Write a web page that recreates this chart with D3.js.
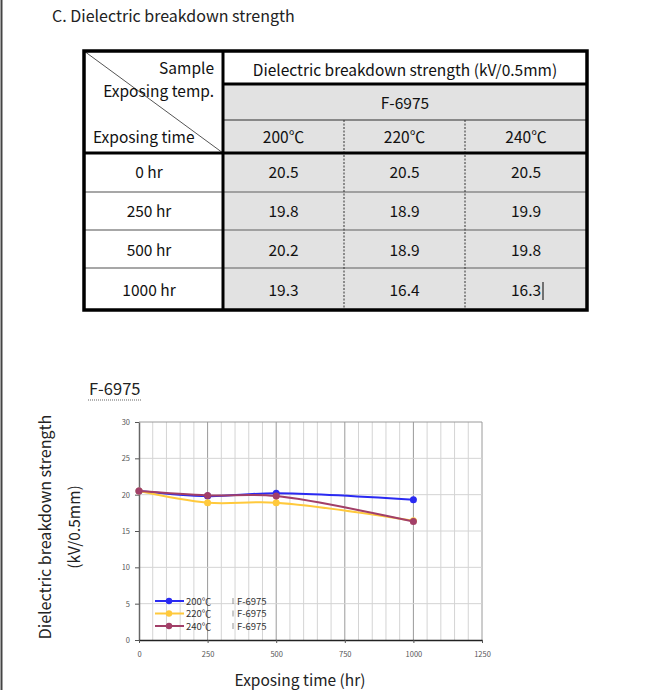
<!DOCTYPE html>
<html>
<head>
<meta charset="utf-8">
<script src="https://cdn.jsdelivr.net/npm/d3@7"></script>
<style>
body{margin:0;background:#fff;}
svg{display:block;font-family:"Noto Sans CJK JP","Noto Sans",sans-serif;}
</style>
</head>
<body>
<div id="chart"></div>
<script>
var w = 655;
var h = 690;

// data
var sampleName = "F-6975";
var exposingTimes = [0, 250, 500, 1000];
var timeLabels = ["0 hr", "250 hr", "500 hr", "1000 hr"];
var temps = ["200℃", "220℃", "240℃"];
var strength200 = [20.5, 19.8, 20.2, 19.3];
var strength220 = [20.5, 18.9, 18.9, 16.4];
var strength240 = [20.5, 19.9, 19.8, 16.3];
var xTicks = [0, 250, 500, 750, 1000, 1250];
var yTicks = [0, 5, 10, 15, 20, 25, 30];

var seriesValues = [strength200, strength220, strength240];
var seriesColors = ["#2a2af2", "#ffc93c", "#a23f68"];

var svg = d3.select("#chart").append("svg")
  .attr("width", w)
  .attr("height", h);

// page border on the left
svg.append("line")
  .attr("x1", 1.5).attr("x2", 1.5).attr("y1", 0).attr("y2", h)
  .attr("stroke", "#444").attr("stroke-width", 2);

svg.append("text")
  .attr("x", 52).attr("y", 22)
  .attr("font-size", "16px").attr("fill", "#222")
  .text("C. Dielectric breakdown strength");

// ---------- table ----------
var colX = [84, 223, 344, 465, 587];
var rowY = [51, 84, 120, 153, 192, 230, 268, 310];
var tLeft = colX[0], tRight = colX[4], tTop = rowY[0], tBottom = rowY[7];
var table = svg.append("g").attr("font-size", "15.5px").attr("fill", "#111");

table.append("rect")
  .attr("x", colX[1]).attr("y", rowY[1])
  .attr("width", tRight - colX[1]).attr("height", tBottom - rowY[1])
  .attr("fill", "#e2e2e2");

// thin row lines in the body
table.selectAll(".rowline").data(rowY.slice(4, 7)).enter().append("line")
  .attr("x1", tLeft).attr("x2", tRight)
  .attr("y1", function(d){ return d; }).attr("y2", function(d){ return d; })
  .attr("stroke", "#8a8a8a").attr("stroke-width", 1.5);

table.append("line")
  .attr("x1", colX[1]).attr("x2", tRight).attr("y1", rowY[2]).attr("y2", rowY[2])
  .attr("stroke", "#6a6a6a").attr("stroke-width", 1.5);

// dashed column dividers
table.selectAll(".colline").data(colX.slice(2, 4)).enter().append("line")
  .attr("x1", function(d){ return d; }).attr("x2", function(d){ return d; })
  .attr("y1", rowY[2]).attr("y2", tBottom)
  .attr("stroke", "#333").attr("stroke-width", 1)
  .attr("stroke-dasharray", "2,1.5");

table.append("line")
  .attr("x1", tLeft).attr("y1", tTop).attr("x2", colX[1]).attr("y2", rowY[3])
  .attr("stroke", "#555").attr("stroke-width", 1);

// thick lines
table.append("line")
  .attr("x1", colX[1]).attr("x2", tRight).attr("y1", rowY[1]).attr("y2", rowY[1])
  .attr("stroke", "#000").attr("stroke-width", 3);
table.append("line")
  .attr("x1", tLeft).attr("x2", tRight).attr("y1", rowY[3]).attr("y2", rowY[3])
  .attr("stroke", "#000").attr("stroke-width", 3);
table.append("line")
  .attr("x1", colX[1]).attr("x2", colX[1]).attr("y1", tTop).attr("y2", tBottom)
  .attr("stroke", "#000").attr("stroke-width", 3);
table.append("rect")
  .attr("x", tLeft).attr("y", tTop)
  .attr("width", tRight - tLeft).attr("height", tBottom - tTop)
  .attr("fill", "none").attr("stroke", "#000").attr("stroke-width", 3.5);

// header texts
table.append("text").attr("x", 214).attr("y", 74).attr("text-anchor", "end").text("Sample");
table.append("text").attr("x", 214).attr("y", 97).attr("text-anchor", "end").text("Exposing temp.");
table.append("text").attr("x", 93).attr("y", 143).text("Exposing time");
table.append("text").attr("x", (colX[1] + tRight) / 2).attr("y", 76).attr("text-anchor", "middle")
  .text("Dielectric breakdown strength (kV/0.5mm)");
table.append("text").attr("x", (colX[1] + tRight) / 2).attr("y", 109).attr("text-anchor", "middle")
  .text(sampleName);

table.selectAll(".temp").data(temps).enter().append("text")
  .attr("x", function(d, i){ return (colX[i + 1] + colX[i + 2]) / 2; })
  .attr("y", 143).attr("text-anchor", "middle")
  .text(function(d){ return d; });

var bodyBase = [178, 217, 256, 296];
table.selectAll(".tlabel").data(timeLabels).enter().append("text")
  .attr("x", 149).attr("y", function(d, i){ return bodyBase[i]; })
  .attr("text-anchor", "middle")
  .text(function(d){ return d; });

temps.forEach(function(t, j){
  table.selectAll(".val" + j).data(seriesValues[j]).enter().append("text")
    .attr("x", (colX[j + 1] + colX[j + 2]) / 2)
    .attr("y", function(d, i){ return bodyBase[i]; })
    .attr("text-anchor", "middle")
    .text(function(d){ return d.toFixed(1); });
});
// text cursor left in the last cell
table.append("line")
  .attr("x1", 543).attr("x2", 543).attr("y1", 282).attr("y2", 300)
  .attr("stroke", "#000").attr("stroke-width", 1);

// ---------- chart ----------
svg.append("text")
  .attr("x", 89).attr("y", 395)
  .attr("font-size", "16.5px").attr("fill", "#222")
  .text(sampleName);
svg.append("line")
  .attr("x1", 88).attr("x2", 142).attr("y1", 400).attr("y2", 400)
  .attr("stroke", "#999").attr("stroke-width", 1.5)
  .attr("stroke-dasharray", "1,1");

var xScale = d3.scaleLinear().domain([0, 1250]).range([139, 482]);
var yScale = d3.scaleLinear().domain([0, 30]).range([640, 422]);

var grid = svg.append("g");
grid.selectAll(".vg").data(d3.range(50, 1251, 50)).enter().append("line")
  .attr("x1", function(d){ return xScale(d); }).attr("x2", function(d){ return xScale(d); })
  .attr("y1", yScale(0)).attr("y2", yScale(30))
  .attr("stroke", function(d){ return d % 250 === 0 ? "#9a9a9a" : "#d4d4d4"; })
  .attr("stroke-width", 1);
grid.selectAll(".hg").data(yTicks.slice(1)).enter().append("line")
  .attr("x1", xScale(0)).attr("x2", xScale(1250))
  .attr("y1", function(d){ return yScale(d); }).attr("y2", function(d){ return yScale(d); })
  .attr("stroke", function(d){ return d === 30 ? "#9a9a9a" : "#d4d4d4"; })
  .attr("stroke-width", 1);

var yAxis = svg.append("g")
  .attr("transform", "translate(" + xScale(0) + ",0)")
  .call(d3.axisLeft(yScale).tickValues(yTicks).tickSize(4).tickPadding(5).tickSizeOuter(0));
var xAxis = svg.append("g")
  .attr("transform", "translate(0," + yScale(0) + ")")
  .call(d3.axisBottom(xScale).tickValues(xTicks).tickFormat(d3.format("d"))
    .tickSize(3).tickPadding(9).tickSizeOuter(0));
[yAxis, xAxis].forEach(function(a){
  a.selectAll("text").attr("font-size", "7.5px").attr("fill", "#555")
    .attr("font-family", "'Noto Sans CJK JP', sans-serif");
  a.selectAll("line").attr("stroke", "#555");
});
yAxis.select(".domain").attr("stroke", "#666").attr("stroke-width", 1.5);
xAxis.select(".domain").attr("stroke", "#222").attr("stroke-width", 1.5);

var line = d3.line()
  .x(function(d, i){ return xScale(exposingTimes[i]); })
  .y(function(d){ return yScale(d); })
  .curve(d3.curveCatmullRom.alpha(0.5));

seriesValues.forEach(function(vals, j){
  svg.append("path")
    .datum(vals)
    .attr("d", line)
    .attr("fill", "none")
    .attr("stroke", seriesColors[j])
    .attr("stroke-width", 2);
  svg.selectAll(".pt" + j).data(vals).enter().append("circle")
    .attr("cx", function(d, i){ return xScale(exposingTimes[i]); })
    .attr("cy", function(d){ return yScale(d); })
    .attr("r", 3.5)
    .attr("fill", seriesColors[j]);
});

// legend
var legend = svg.append("g").attr("font-size", "9.5px").attr("fill", "#333");
temps.forEach(function(t, j){
  var ly = 601 + j * 12.5;
  legend.append("line")
    .attr("x1", 155).attr("x2", 184).attr("y1", ly).attr("y2", ly)
    .attr("stroke", seriesColors[j]).attr("stroke-width", 2);
  legend.append("circle").attr("cx", 169).attr("cy", ly).attr("r", 3.2).attr("fill", seriesColors[j]);
  legend.append("text").attr("x", 186).attr("y", ly + 3.5).text(t);
  legend.append("line")
    .attr("x1", 233).attr("x2", 233).attr("y1", ly - 3).attr("y2", ly + 3)
    .attr("stroke", "#777").attr("stroke-width", 0.8);
  legend.append("text").attr("x", 237).attr("y", ly + 3.5).text(sampleName);
});

// axis titles
svg.append("text")
  .attr("x", 300).attr("y", 686)
  .attr("text-anchor", "middle").attr("font-size", "15.5px").attr("fill", "#222")
  .text("Exposing time (hr)");
svg.append("text")
  .attr("transform", "translate(51,527) rotate(-90)")
  .attr("text-anchor", "middle").attr("font-size", "16px").attr("fill", "#222")
  .text("Dielectric breakdown strength");
svg.append("text")
  .attr("transform", "translate(80,527) rotate(-90)")
  .attr("text-anchor", "middle").attr("font-size", "15.5px").attr("fill", "#222")
  .text("(kV/0.5mm)");
</script>
</body>
</html>
